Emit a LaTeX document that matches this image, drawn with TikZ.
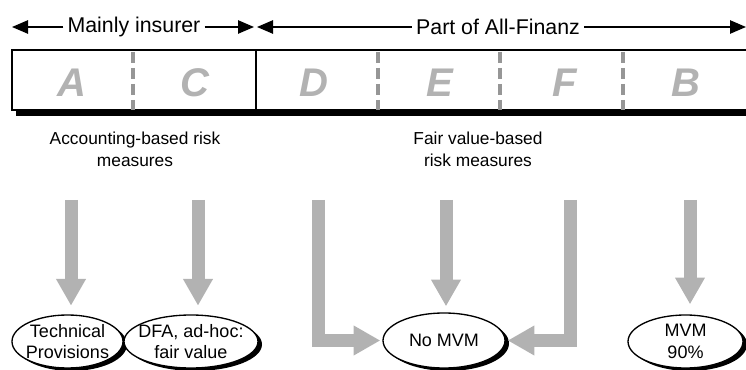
\documentclass[tikz,border=0pt]{standalone}
\usepackage{fontspec}
\setmainfont{Liberation Sans}
\usetikzlibrary{arrows.meta,shapes.geometric,shadows}

\definecolor{flowgray}{RGB}{178,178,178}
\definecolor{lettergray}{RGB}{178,178,178}
\definecolor{dashgray}{RGB}{150,150,150}

\tikzset{
  hdrarrow/.style={line width=1.1pt, -{Triangle[length=12pt,width=10pt]}},
  hdrtext/.style={font=\fontsize{16}{19}\selectfont, inner xsep=3pt},
  segline/.style={dashgray, line width=3pt, dash pattern=on 8pt off 4pt},
  letter/.style={font=\fontsize{30}{30}\selectfont\bfseries\itshape, text=lettergray},
  caption/.style={font=\fontsize{13}{16.5}\selectfont, align=center},
  flow/.style={draw=flowgray, line width=9.75pt, line join=miter,
    -{Triangle[length=20pt,width=21pt]}},
  ellbox/.style={ellipse, draw, line width=1pt, fill=white, inner sep=0pt,
    drop shadow={shadow xshift=3pt, shadow yshift=-2.2pt, fill=black, opacity=1}},
  elltext/.style={font=\fontsize{13.5}{16}\selectfont, align=center, inner sep=0pt}
}

\begin{document}
\begin{tikzpicture}[x=0.75pt,y=-0.75pt]
\useasboundingbox (0,0) rectangle (746,370);
\clip (0,0) rectangle (746,370);

% header arrows
\node[hdrtext] (mi) at (134,27) {Mainly insurer};
\coordinate (mi-l) at (12,27);
\coordinate (mi-r) at (254,27);
\draw[hdrarrow] (mi.west) -- (mi-l);
\draw[hdrarrow] (mi.east) -- (mi-r);

\node[hdrtext] (pa) at (498,27) {Part of All-Finanz};
\coordinate (pa-l) at (257,27);
\coordinate (pa-r) at (746,27);
\draw[hdrarrow] (pa.west) -- (pa-l);
\draw[hdrarrow] (pa.east) -- (pa-r);

% segment bar with its shadow
\fill[black] (16,56) rectangle (760,116);
\draw[line width=1.2pt, fill=white] (12,50) rectangle (760,110);
\draw[line width=1.6pt] (256,50) -- (256,110);
\foreach \xx in {133,378,500,623}
  \draw[segline] (\xx,52) -- (\xx,110);

\node[letter] (A) at (72,83) {A};
\node[letter] (C) at (195,83) {C};
\node[letter] (D) at (314,83) {D};
\node[letter] (E) at (440,83) {E};
\node[letter] (F) at (565,83) {F};
\node[letter] (B) at (686,83) {B};

% captions
\node[caption] (acc) at (135,149) {Accounting-based risk\\measures};
\node[caption] (fvb) at (478,149) {Fair value-based\\risk measures};

% result ellipses
\node[ellbox, minimum width=83.25pt, minimum height=39.75pt] (tp) at (67.5,341.5) {};
\node[elltext] (tp-t) at (tp) {Technical\\Provisions};
\node[ellbox, minimum width=100.5pt, minimum height=39.75pt] (dfa) at (191,341.5) {};
\node[elltext] (dfa-t) at (dfa) {DFA, ad-hoc:\\fair value};
\node[ellbox, minimum width=91.5pt, minimum height=41.25pt] (nomvm) at (444,340.5) {};
\node[elltext] (nomvm-t) at (nomvm) {No MVM};
\node[ellbox, minimum width=86.25pt, minimum height=39.75pt] (mvm) at (685.5,341.5) {};
\node[elltext] (mvm-t) at (mvm) {MVM\\90\%};

% flow arrows
\coordinate (sA) at (71,200);
\coordinate (sC) at (198,200);
\coordinate (sD) at (318,200);
\coordinate (sE) at (446,200);
\coordinate (sF) at (570,200);
\coordinate (sB) at (690,200);
\draw[flow, shorten >=6.5pt] (sA) -- (sA |- tp.north);
\draw[flow, shorten >=6.5pt] (sC) -- (sC |- dfa.north);
\draw[flow, shorten >=1.5pt] (sD) |- (nomvm.west);
\draw[flow, shorten >=4.5pt] (sE) -- (sE |- nomvm.north);
\draw[flow, shorten >=1.5pt] (sF) |- (nomvm.east);
\draw[flow, shorten >=7.5pt] (sB) -- (sB |- mvm.north);
\end{tikzpicture}
\end{document}
